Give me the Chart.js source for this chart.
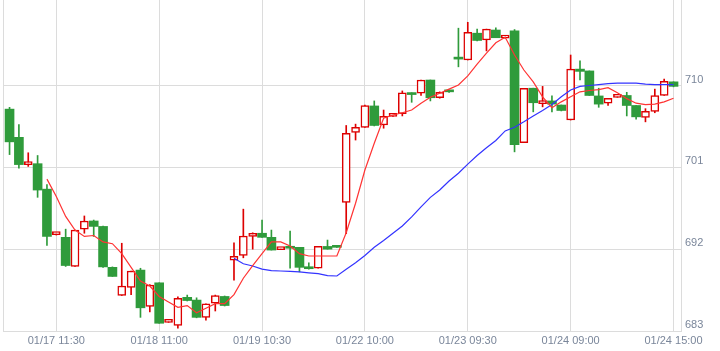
<!DOCTYPE html>
<html>
<head>
<meta charset="utf-8">
<script src="https://cdn.jsdelivr.net/npm/chart.js@4"></script>
<style>
  html, body { margin: 0; padding: 0; background: #fff; }
  #wrap { width: 720px; height: 351px; }
</style>
</head>
<body>
<div id="wrap"><canvas id="kline" width="720" height="351"></canvas></div>
<script>
// tick labels on the time axis (candle index -> label)
const tickIdx = [5, 16, 27, 38, 49, 60, 71];
const tickText = ['01/17 11:30', '01/18 11:00', '01/19 10:30', '01/22 10:00', '01/23 09:30', '01/24 09:00', '01/24 15:00'];
const priceTicks = [683, 692, 701, 710];

// OHLC per 30-min bar
const open = [707.4, 704.3, 701.3, 701.4, 698.6, 693.6, 693.3, 690.1, 694.2, 695.1,
  694.5, 690.0, 686.9, 687.8, 689.7, 685.7, 688.3, 683.95, 683.6, 686.7,
  686.4, 684.5, 686.05, 686.8, 690.8, 691.3, 693.4, 693.75, 693.3, 691.95,
  692.2, 692.2, 690.0, 689.9, 692.3, 692.3, 697.15, 704.85, 705.4, 707.75,
  705.65, 706.6, 706.9, 709.15, 709.15, 710.6, 708.65, 709.5, 713.0, 712.8,
  715.75, 715.0, 716.1, 715.2, 716.0, 703.7, 709.7, 708.0, 708.3, 707.85,
  706.2, 711.8, 711.6, 708.85, 708.05, 708.7, 708.9, 707.8, 706.5, 707.15,
  708.9, 710.4];
const high = [707.6, 705.7, 702.6, 702.3, 699.1, 693.8, 694.2, 694.1, 695.65, 695.2,
  694.55, 690.05, 692.65, 689.6, 689.9, 688.1, 688.3, 684.1, 686.75, 686.95,
  686.65, 686.0, 686.95, 686.85, 692.7, 696.4, 693.8, 695.2, 694.1, 692.05,
  694.0, 692.2, 690.5, 692.3, 693.0, 692.3, 705.6, 705.75, 707.85, 708.3,
  707.3, 706.7, 709.4, 709.2, 710.6, 710.6, 709.3, 709.5, 716.3, 716.95,
  716.2, 716.2, 716.35, 715.45, 716.15, 709.7, 709.7, 709.9, 708.85, 707.85,
  713.35, 712.7, 711.6, 709.7, 708.6, 708.8, 709.25, 707.8, 707.45, 709.6,
  710.7, 710.4];
const low = [702.4, 700.9, 701.1, 697.7, 692.4, 693.55, 690.1, 690.1, 693.75, 693.4,
  690.0, 689.0, 686.9, 687.0, 684.5, 685.1, 683.85, 683.95, 683.3, 686.3,
  684.45, 684.2, 685.2, 685.75, 688.6, 691.05, 692.0, 693.3, 691.9, 691.95,
  689.9, 689.5, 689.8, 689.9, 692.0, 692.2, 693.7, 704.0, 705.4, 705.55,
  705.3, 706.6, 706.65, 708.15, 708.9, 708.3, 708.6, 709.25, 712.05, 712.8,
  714.9, 713.8, 715.25, 715.2, 702.7, 703.7, 707.1, 707.65, 707.1, 707.2,
  706.2, 710.6, 708.9, 707.6, 707.8, 708.7, 706.65, 706.3, 706.0, 707.0,
  708.9, 709.85];
const close = [703.8, 701.3, 701.35, 698.5, 693.4, 693.75, 690.2, 694.1, 695.1, 694.5,
  690.05, 689.0, 687.95, 689.6, 685.55, 688.05, 683.85, 684.1, 686.6, 686.35,
  684.5, 686.0, 686.9, 685.8, 691.2, 693.45, 693.75, 693.3, 691.9, 692.05,
  692.1, 690.0, 689.85, 692.3, 692.0, 692.2, 704.75, 705.4, 707.8, 705.6,
  706.6, 706.7, 709.2, 709.0, 710.6, 708.65, 709.25, 709.3, 712.9, 715.85,
  714.95, 716.2, 715.25, 715.45, 703.5, 709.7, 708.1, 708.1, 707.95, 707.25,
  711.8, 711.55, 708.9, 707.95, 708.6, 708.8, 707.8, 706.55, 707.15, 708.9,
  710.45, 709.9];

// moving averages as drawn (red = short, blue = long)
const maShort = [null, null, null, null, 699.7, 697.8, 695.6, 694.1, 693.4, 693.5,
  692.8, 692.6, 691.5, 690.0, 688.5, 687.95, 686.8, 686.2, 685.6, 685.8,
  685.0, 685.5, 686.0, 686.0, 687.0, 688.8, 690.2, 691.5, 692.8, 692.8,
  692.35, 691.5, 691.25, 691.25, 691.25, 691.25, 693.8, 697.05, 700.7, 703.65,
  706.4, 706.75, 707.0, 707.3, 708.05, 708.7, 709.15, 709.6, 710.05, 711.05,
  712.35, 713.55, 714.7, 715.3, 713.35, 711.7, 710.4, 708.75, 707.55, 708.2,
  708.75, 709.3, 709.45, 709.55, 709.75, 709.2, 708.55, 708.05, 707.9, 707.95,
  708.2, 708.6];
const maLong = [null, null, null, null, null, null, null, null, null, null,
  null, null, null, null, null, null, null, null, null, null,
  null, null, null, null, 691.0, 690.4, 690.15, 689.8, 689.65, 689.6,
  689.55, 689.5, 689.4, 689.3, 689.1, 689.05, 689.8, 690.5, 691.3, 692.2,
  692.95, 693.75, 694.55, 695.55, 696.65, 697.7, 698.5, 699.5, 700.35, 701.35,
  702.3, 703.15, 703.95, 705.0, 705.4, 706.0, 706.65, 707.25, 707.9, 708.75,
  709.5, 709.9, 710.0, 710.1, 710.2, 710.25, 710.25, 710.25, 710.15, 710.1,
  710.1, 710.1];

const UP = '#dd0000';
const DOWN = '#2f9b3b';
const GRID = '#dcdcdc';
const LABEL = '#7a869a';

const idx = open.map((_, i) => i);
const isUp = i => close[i] >= open[i];

const wicks = idx.map(i => ({ x: i, y: [low[i], high[i]] }));
const upBodies = idx.filter(isUp).map(i => ({ x: i, y: [open[i], close[i]] }));
const downBodies = idx.filter(i => !isUp(i)).map(i => ({ x: i, y: [close[i], open[i]] }));

// left edge of the plot has a border line too
const leftBorder = {
  id: 'leftBorder',
  afterDraw(chart) {
    const { ctx, chartArea } = chart;
    ctx.save();
    ctx.strokeStyle = GRID;
    ctx.lineWidth = 1;
    ctx.beginPath();
    ctx.moveTo(Math.round(chartArea.left) + 0.5, chartArea.top);
    ctx.lineTo(Math.round(chartArea.left) + 0.5, chartArea.bottom);
    ctx.stroke();
    ctx.restore();
  }
};

new Chart(document.getElementById('kline').getContext('2d'), {
  type: 'bar',
  data: {
    datasets: [
      {
        type: 'line',
        data: maShort.map((v, i) => ({ x: i, y: v })),
        borderColor: '#ff3333',
        borderWidth: 1.2,
        pointRadius: 0,
        tension: 0,
        order: 0,
      },
      {
        type: 'line',
        data: maLong.map((v, i) => ({ x: i, y: v })),
        borderColor: '#3333ff',
        borderWidth: 1.2,
        pointRadius: 0,
        tension: 0,
        order: 1,
      },
      {
        data: upBodies,
        backgroundColor: '#ffffff',
        borderColor: UP,
        borderWidth: 1.5,
        borderSkipped: false,
        barThickness: 8,
        minBarLength: 3,
        grouped: false,
        order: 2,
      },
      {
        data: downBodies,
        backgroundColor: DOWN,
        borderWidth: 0,
        barThickness: 9,
        minBarLength: 2,
        grouped: false,
        order: 3,
      },
      {
        data: wicks,
        backgroundColor: ctx => (isUp(ctx.dataIndex) ? UP : DOWN),
        borderWidth: 0,
        barThickness: 1,
        grouped: false,
        order: 4,
      },
    ],
  },
  options: {
    responsive: false,
    animation: false,
    layout: { padding: { left: 3, top: 0, right: 0, bottom: 0 } },
    plugins: {
      legend: { display: false },
      tooltip: { enabled: false },
    },
    scales: {
      x: {
        type: 'linear',
        min: -0.7,
        max: 71.8,
        offset: false,
        afterBuildTicks: s => { s.ticks = tickIdx.map(v => ({ value: v })); },
        afterFit: s => { s.height = 20; s.paddingLeft = 0; s.paddingRight = 0; },
        ticks: {
          autoSkip: false,
          maxRotation: 0,
          padding: 3,
          color: LABEL,
          font: { family: '"Liberation Sans", Arial, sans-serif', size: 11 },
          callback: (v, i) => tickText[i],
        },
        grid: { color: GRID, drawTicks: false, offset: false },
        border: { color: GRID },
      },
      y: {
        position: 'right',
        min: 683,
        max: 719.4,
        afterBuildTicks: s => { s.ticks = priceTicks.map(v => ({ value: v })); },
        afterFit: s => { s.width = 39; s.paddingTop = 0; s.paddingBottom = 0; },
        ticks: {
          padding: 4,
          labelOffset: -6,
          color: LABEL,
          font: { family: '"Liberation Sans", Arial, sans-serif', size: 11 },
          callback: v => String(v),
        },
        grid: { color: GRID, drawTicks: false },
        border: { color: GRID },
      },
    },
  },
  plugins: [leftBorder],
});
</script>
</body>
</html>
